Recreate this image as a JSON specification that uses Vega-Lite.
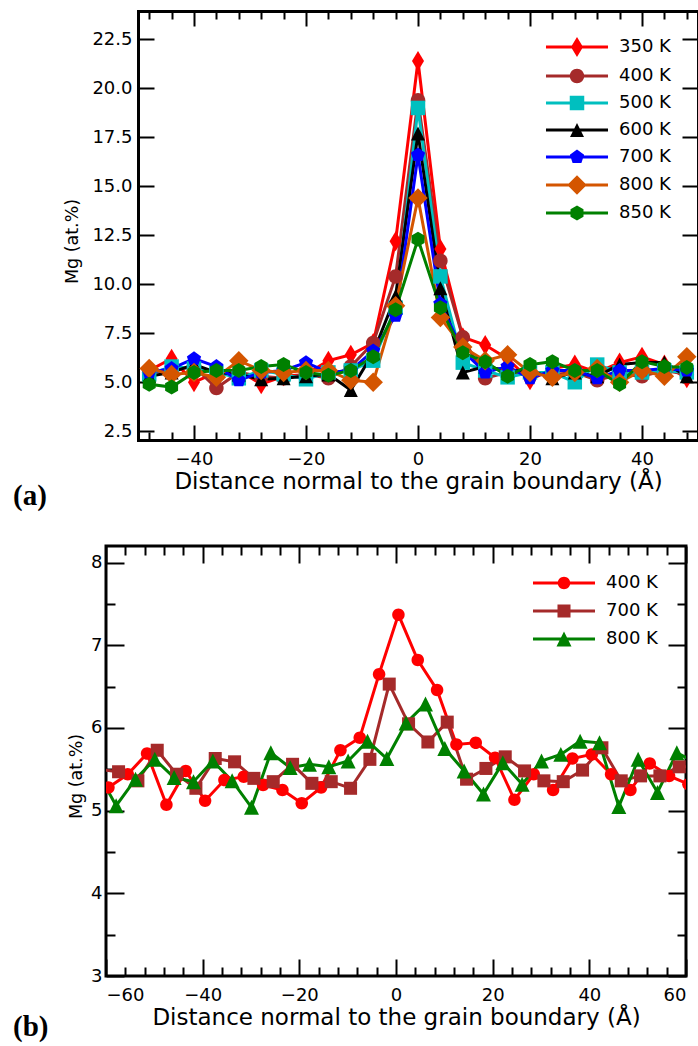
{
  "$schema": "https://vega.github.io/schema/vega-lite/v6.json",
  "padding": {"left": 11, "top": 10, "right": 0, "bottom": 5},
  "background": "white",
  "config": {
    "view": {"stroke": "black", "strokeWidth": 3},
    "axis": {"grid": false, "domain": false, "labelFont": "DejaVu Sans", "titleFont": "DejaVu Sans", "labelFontSize": 18, "titleFontSize": 18, "titleFontWeight": "normal", "labelColor": "black", "titleColor": "black", "tickColor": "black", "tickWidth": 2},
    "legend": {"labelFont": "DejaVu Sans", "labelFontSize": 18, "labelColor": "black"}
  },
  "datasets": {
    "a": [
      {"x":-48,"mg":5.6,"T":"350 K"},{"x":-44,"mg":6.2,"T":"350 K"},{"x":-40,"mg":5.0,"T":"350 K"},{"x":-36,"mg":5.5,"T":"350 K"},{"x":-32,"mg":5.6,"T":"350 K"},{"x":-28,"mg":4.9,"T":"350 K"},{"x":-24,"mg":5.3,"T":"350 K"},{"x":-20,"mg":5.4,"T":"350 K"},{"x":-16,"mg":6.1,"T":"350 K"},{"x":-12,"mg":6.4,"T":"350 K"},{"x":-8,"mg":7.0,"T":"350 K"},{"x":-4,"mg":12.2,"T":"350 K"},{"x":0,"mg":21.4,"T":"350 K"},{"x":4,"mg":11.8,"T":"350 K"},{"x":8,"mg":7.3,"T":"350 K"},{"x":12,"mg":6.9,"T":"350 K"},{"x":16,"mg":6.2,"T":"350 K"},{"x":20,"mg":5.1,"T":"350 K"},{"x":24,"mg":5.7,"T":"350 K"},{"x":28,"mg":5.9,"T":"350 K"},{"x":32,"mg":5.5,"T":"350 K"},{"x":36,"mg":6.0,"T":"350 K"},{"x":40,"mg":6.3,"T":"350 K"},{"x":44,"mg":5.9,"T":"350 K"},{"x":48,"mg":5.2,"T":"350 K"},
      {"x":-48,"mg":5.5,"T":"400 K"},{"x":-44,"mg":5.6,"T":"400 K"},{"x":-40,"mg":5.8,"T":"400 K"},{"x":-36,"mg":4.7,"T":"400 K"},{"x":-32,"mg":5.5,"T":"400 K"},{"x":-28,"mg":5.3,"T":"400 K"},{"x":-24,"mg":5.2,"T":"400 K"},{"x":-20,"mg":5.4,"T":"400 K"},{"x":-16,"mg":5.2,"T":"400 K"},{"x":-12,"mg":5.8,"T":"400 K"},{"x":-8,"mg":7.0,"T":"400 K"},{"x":-4,"mg":10.4,"T":"400 K"},{"x":0,"mg":19.4,"T":"400 K"},{"x":4,"mg":11.2,"T":"400 K"},{"x":8,"mg":7.3,"T":"400 K"},{"x":12,"mg":5.2,"T":"400 K"},{"x":16,"mg":5.5,"T":"400 K"},{"x":20,"mg":5.4,"T":"400 K"},{"x":24,"mg":5.4,"T":"400 K"},{"x":28,"mg":5.5,"T":"400 K"},{"x":32,"mg":5.1,"T":"400 K"},{"x":36,"mg":5.4,"T":"400 K"},{"x":40,"mg":5.3,"T":"400 K"},{"x":44,"mg":5.6,"T":"400 K"},{"x":48,"mg":5.4,"T":"400 K"},
      {"x":-48,"mg":5.4,"T":"500 K"},{"x":-44,"mg":5.8,"T":"500 K"},{"x":-40,"mg":5.7,"T":"500 K"},{"x":-36,"mg":5.5,"T":"500 K"},{"x":-32,"mg":5.2,"T":"500 K"},{"x":-28,"mg":5.6,"T":"500 K"},{"x":-24,"mg":5.4,"T":"500 K"},{"x":-20,"mg":5.15,"T":"500 K"},{"x":-16,"mg":5.5,"T":"500 K"},{"x":-12,"mg":5.6,"T":"500 K"},{"x":-8,"mg":6.1,"T":"500 K"},{"x":-4,"mg":8.8,"T":"500 K"},{"x":0,"mg":19.0,"T":"500 K"},{"x":4,"mg":10.4,"T":"500 K"},{"x":8,"mg":6.0,"T":"500 K"},{"x":12,"mg":5.6,"T":"500 K"},{"x":16,"mg":5.25,"T":"500 K"},{"x":20,"mg":5.5,"T":"500 K"},{"x":24,"mg":5.5,"T":"500 K"},{"x":28,"mg":5.0,"T":"500 K"},{"x":32,"mg":5.9,"T":"500 K"},{"x":36,"mg":5.5,"T":"500 K"},{"x":40,"mg":5.5,"T":"500 K"},{"x":44,"mg":5.6,"T":"500 K"},{"x":48,"mg":5.5,"T":"500 K"},
      {"x":-48,"mg":5.3,"T":"600 K"},{"x":-44,"mg":5.5,"T":"600 K"},{"x":-40,"mg":5.9,"T":"600 K"},{"x":-36,"mg":5.5,"T":"600 K"},{"x":-32,"mg":5.4,"T":"600 K"},{"x":-28,"mg":5.15,"T":"600 K"},{"x":-24,"mg":5.2,"T":"600 K"},{"x":-20,"mg":5.3,"T":"600 K"},{"x":-16,"mg":5.4,"T":"600 K"},{"x":-12,"mg":4.6,"T":"600 K"},{"x":-8,"mg":6.5,"T":"600 K"},{"x":-4,"mg":9.4,"T":"600 K"},{"x":0,"mg":17.7,"T":"600 K"},{"x":4,"mg":9.8,"T":"600 K"},{"x":8,"mg":5.5,"T":"600 K"},{"x":12,"mg":5.8,"T":"600 K"},{"x":16,"mg":5.6,"T":"600 K"},{"x":20,"mg":5.6,"T":"600 K"},{"x":24,"mg":5.2,"T":"600 K"},{"x":28,"mg":5.5,"T":"600 K"},{"x":32,"mg":5.3,"T":"600 K"},{"x":36,"mg":5.9,"T":"600 K"},{"x":40,"mg":6.0,"T":"600 K"},{"x":44,"mg":6.0,"T":"600 K"},{"x":48,"mg":5.3,"T":"600 K"},
      {"x":-48,"mg":5.5,"T":"700 K"},{"x":-44,"mg":5.7,"T":"700 K"},{"x":-40,"mg":6.2,"T":"700 K"},{"x":-36,"mg":5.8,"T":"700 K"},{"x":-32,"mg":5.1,"T":"700 K"},{"x":-28,"mg":5.5,"T":"700 K"},{"x":-24,"mg":5.6,"T":"700 K"},{"x":-20,"mg":6.0,"T":"700 K"},{"x":-16,"mg":5.5,"T":"700 K"},{"x":-12,"mg":5.6,"T":"700 K"},{"x":-8,"mg":6.6,"T":"700 K"},{"x":-4,"mg":8.4,"T":"700 K"},{"x":0,"mg":16.6,"T":"700 K"},{"x":4,"mg":9.0,"T":"700 K"},{"x":8,"mg":6.6,"T":"700 K"},{"x":12,"mg":5.5,"T":"700 K"},{"x":16,"mg":5.8,"T":"700 K"},{"x":20,"mg":5.2,"T":"700 K"},{"x":24,"mg":5.6,"T":"700 K"},{"x":28,"mg":5.6,"T":"700 K"},{"x":32,"mg":5.2,"T":"700 K"},{"x":36,"mg":5.6,"T":"700 K"},{"x":40,"mg":5.6,"T":"700 K"},{"x":44,"mg":5.7,"T":"700 K"},{"x":48,"mg":5.6,"T":"700 K"},
      {"x":-48,"mg":5.7,"T":"800 K"},{"x":-44,"mg":5.4,"T":"800 K"},{"x":-40,"mg":5.5,"T":"800 K"},{"x":-36,"mg":5.25,"T":"800 K"},{"x":-32,"mg":6.1,"T":"800 K"},{"x":-28,"mg":5.6,"T":"800 K"},{"x":-24,"mg":5.5,"T":"800 K"},{"x":-20,"mg":5.6,"T":"800 K"},{"x":-16,"mg":5.6,"T":"800 K"},{"x":-12,"mg":5.1,"T":"800 K"},{"x":-8,"mg":5.0,"T":"800 K"},{"x":-4,"mg":8.9,"T":"800 K"},{"x":0,"mg":14.4,"T":"800 K"},{"x":4,"mg":8.3,"T":"800 K"},{"x":8,"mg":6.8,"T":"800 K"},{"x":12,"mg":6.1,"T":"800 K"},{"x":16,"mg":6.4,"T":"800 K"},{"x":20,"mg":5.5,"T":"800 K"},{"x":24,"mg":5.25,"T":"800 K"},{"x":28,"mg":5.5,"T":"800 K"},{"x":32,"mg":5.7,"T":"800 K"},{"x":36,"mg":5.0,"T":"800 K"},{"x":40,"mg":5.6,"T":"800 K"},{"x":44,"mg":5.3,"T":"800 K"},{"x":48,"mg":6.3,"T":"800 K"},
      {"x":-48,"mg":4.9,"T":"850 K"},{"x":-44,"mg":4.75,"T":"850 K"},{"x":-40,"mg":5.5,"T":"850 K"},{"x":-36,"mg":5.6,"T":"850 K"},{"x":-32,"mg":5.6,"T":"850 K"},{"x":-28,"mg":5.8,"T":"850 K"},{"x":-24,"mg":5.9,"T":"850 K"},{"x":-20,"mg":5.5,"T":"850 K"},{"x":-16,"mg":5.35,"T":"850 K"},{"x":-12,"mg":5.6,"T":"850 K"},{"x":-8,"mg":6.3,"T":"850 K"},{"x":-4,"mg":8.7,"T":"850 K"},{"x":0,"mg":12.3,"T":"850 K"},{"x":4,"mg":8.8,"T":"850 K"},{"x":8,"mg":6.5,"T":"850 K"},{"x":12,"mg":6.05,"T":"850 K"},{"x":16,"mg":5.3,"T":"850 K"},{"x":20,"mg":5.9,"T":"850 K"},{"x":24,"mg":6.05,"T":"850 K"},{"x":28,"mg":5.6,"T":"850 K"},{"x":32,"mg":5.6,"T":"850 K"},{"x":36,"mg":4.9,"T":"850 K"},{"x":40,"mg":6.05,"T":"850 K"},{"x":44,"mg":5.8,"T":"850 K"},{"x":48,"mg":5.75,"T":"850 K"}
    ],
    "b": [
      {"x":-59.5,"mg":5.28,"T":"400 K"},{"x":-55.5,"mg":5.44,"T":"400 K"},{"x":-51.5,"mg":5.69,"T":"400 K"},{"x":-47.5,"mg":5.07,"T":"400 K"},{"x":-43.5,"mg":5.48,"T":"400 K"},{"x":-39.5,"mg":5.12,"T":"400 K"},{"x":-35.5,"mg":5.37,"T":"400 K"},{"x":-31.5,"mg":5.41,"T":"400 K"},{"x":-27.5,"mg":5.31,"T":"400 K"},{"x":-23.5,"mg":5.25,"T":"400 K"},{"x":-19.5,"mg":5.09,"T":"400 K"},{"x":-15.5,"mg":5.28,"T":"400 K"},{"x":-11.5,"mg":5.73,"T":"400 K"},{"x":-7.5,"mg":5.88,"T":"400 K"},{"x":-3.5,"mg":6.65,"T":"400 K"},{"x":0.5,"mg":7.37,"T":"400 K"},{"x":4.5,"mg":6.82,"T":"400 K"},{"x":8.5,"mg":6.46,"T":"400 K"},{"x":12.5,"mg":5.8,"T":"400 K"},{"x":16.5,"mg":5.82,"T":"400 K"},{"x":20.5,"mg":5.64,"T":"400 K"},{"x":24.5,"mg":5.13,"T":"400 K"},{"x":28.5,"mg":5.44,"T":"400 K"},{"x":32.5,"mg":5.25,"T":"400 K"},{"x":36.5,"mg":5.63,"T":"400 K"},{"x":40.5,"mg":5.68,"T":"400 K"},{"x":44.5,"mg":5.44,"T":"400 K"},{"x":48.5,"mg":5.25,"T":"400 K"},{"x":52.5,"mg":5.57,"T":"400 K"},{"x":56.5,"mg":5.42,"T":"400 K"},{"x":60.5,"mg":5.32,"T":"400 K"},
      {"x":-61.4,"mg":5.5,"T":"700 K"},{"x":-57.4,"mg":5.47,"T":"700 K"},{"x":-53.4,"mg":5.36,"T":"700 K"},{"x":-49.4,"mg":5.73,"T":"700 K"},{"x":-45.4,"mg":5.44,"T":"700 K"},{"x":-41.4,"mg":5.27,"T":"700 K"},{"x":-37.4,"mg":5.63,"T":"700 K"},{"x":-33.4,"mg":5.59,"T":"700 K"},{"x":-29.4,"mg":5.39,"T":"700 K"},{"x":-25.4,"mg":5.35,"T":"700 K"},{"x":-21.4,"mg":5.56,"T":"700 K"},{"x":-17.4,"mg":5.33,"T":"700 K"},{"x":-13.4,"mg":5.35,"T":"700 K"},{"x":-9.4,"mg":5.27,"T":"700 K"},{"x":-5.4,"mg":5.62,"T":"700 K"},{"x":-1.4,"mg":6.53,"T":"700 K"},{"x":2.6,"mg":6.05,"T":"700 K"},{"x":6.6,"mg":5.83,"T":"700 K"},{"x":10.6,"mg":6.07,"T":"700 K"},{"x":14.6,"mg":5.38,"T":"700 K"},{"x":18.6,"mg":5.51,"T":"700 K"},{"x":22.6,"mg":5.65,"T":"700 K"},{"x":26.6,"mg":5.48,"T":"700 K"},{"x":30.6,"mg":5.36,"T":"700 K"},{"x":34.6,"mg":5.35,"T":"700 K"},{"x":38.6,"mg":5.49,"T":"700 K"},{"x":42.6,"mg":5.76,"T":"700 K"},{"x":46.6,"mg":5.36,"T":"700 K"},{"x":50.6,"mg":5.42,"T":"700 K"},{"x":54.6,"mg":5.42,"T":"700 K"},{"x":58.6,"mg":5.53,"T":"700 K"},{"x":62.6,"mg":5.53,"T":"700 K"},
      {"x":-61.9,"mg":5.48,"T":"800 K"},{"x":-57.9,"mg":5.06,"T":"800 K"},{"x":-53.9,"mg":5.38,"T":"800 K"},{"x":-49.9,"mg":5.62,"T":"800 K"},{"x":-45.9,"mg":5.4,"T":"800 K"},{"x":-41.9,"mg":5.35,"T":"800 K"},{"x":-37.9,"mg":5.6,"T":"800 K"},{"x":-33.9,"mg":5.36,"T":"800 K"},{"x":-29.9,"mg":5.04,"T":"800 K"},{"x":-25.9,"mg":5.7,"T":"800 K"},{"x":-21.9,"mg":5.52,"T":"800 K"},{"x":-17.9,"mg":5.56,"T":"800 K"},{"x":-13.9,"mg":5.53,"T":"800 K"},{"x":-9.9,"mg":5.6,"T":"800 K"},{"x":-5.9,"mg":5.84,"T":"800 K"},{"x":-1.9,"mg":5.63,"T":"800 K"},{"x":2.1,"mg":6.06,"T":"800 K"},{"x":6.1,"mg":6.29,"T":"800 K"},{"x":10.1,"mg":5.75,"T":"800 K"},{"x":14.1,"mg":5.48,"T":"800 K"},{"x":18.1,"mg":5.2,"T":"800 K"},{"x":22.1,"mg":5.58,"T":"800 K"},{"x":26.1,"mg":5.32,"T":"800 K"},{"x":30.1,"mg":5.6,"T":"800 K"},{"x":34.1,"mg":5.68,"T":"800 K"},{"x":38.1,"mg":5.84,"T":"800 K"},{"x":42.1,"mg":5.82,"T":"800 K"},{"x":46.1,"mg":5.05,"T":"800 K"},{"x":50.1,"mg":5.62,"T":"800 K"},{"x":54.1,"mg":5.22,"T":"800 K"},{"x":58.1,"mg":5.7,"T":"800 K"},{"x":62.1,"mg":5.58,"T":"800 K"}
    ]
  },
  "spacing": 32,
  "resolve": {"scale": {"color": "independent", "shape": "independent"}, "legend": {"color": "independent", "shape": "independent"}},
  "vconcat": [
    {
      "width": 592, "height": 429,
      "view": {"stroke": null},
      "data": {"name": "a"},
      "title": {"text": "(a)", "orient": "bottom", "anchor": "start", "frame": "group", "font": "Liberation Serif", "fontWeight": "bold", "fontSize": 29, "color": "black", "dx": -93, "offset": -11},
      "resolve": {"axis": {"x": "independent", "y": "independent"}, "legend": {"color": "independent", "shape": "independent"}},
      "layer": [
        {
          "mark": {"type": "line", "strokeWidth": 3, "clip": true},
          "encoding": {
            "x": {"field": "x", "type": "quantitative", "scale": {"domain": [-50, 50], "range": [32, 592], "nice": false, "zero": false},
              "axis": {"orient": "bottom", "domain": true, "domainWidth": 3, "domainColor": "black", "domainCap": "square", "values": [-48,-44,-40,-36,-32,-28,-24,-20,-16,-12,-8,-4,0,4,8,12,16,20,24,28,32,36,40,44,48], "labelExpr": "datum.value % 20 === 0 ? datum.label : ''", "tickSize": {"condition": {"test": "datum.value % 20 === 0", "value": -15}, "value": -8}, "labelPadding": 25, "title": "Distance normal to the grain boundary (Å)", "titleFontSize": 23, "titlePadding": 2}},
            "y": {"field": "mg", "type": "quantitative", "scale": {"domain": [2.05, 23.95], "nice": false, "zero": false},
              "axis": {"orient": "left", "offset": -32, "domain": true, "domainWidth": 3, "domainColor": "black", "domainCap": "square", "values": [2.5,5,7.5,10,12.5,15,17.5,20,22.5], "format": ".1f", "tickSize": -16, "labelPadding": 22, "title": "Mg (at.%)", "titleFontSize": 17.5, "titlePadding": 10, "titleY": 230}},
            "color": {"field": "T", "type": "nominal",
              "scale": {"domain": ["350 K","400 K","500 K","600 K","700 K","800 K","850 K"], "range": ["#ff0000","#a52a2a","#00bfbf","#000000","#0000ff","#d45500","#008000"]},
              "legend": {"title": null, "orient": "top-right", "offset": 27, "padding": 0, "rowPadding": 9, "symbolSize": 196, "labelOffset": 33,
                "encode": {"symbols": {"update": {
                  "fill": {"signal": "datum.value === '350 K' ? '#ff0000' : datum.value === '400 K' ? '#a52a2a' : datum.value === '500 K' ? '#00bfbf' : datum.value === '600 K' ? '#000000' : datum.value === '700 K' ? '#0000ff' : datum.value === '800 K' ? '#d45500' : '#008000'"},
                  "strokeWidth": {"value": 0},
                  "opacity": {"value": 1},
                  "size": {"value": 196},
                  "shape": {"signal": "datum.value === '350 K' ? 'M-4.43,-0.2H4.43V0.2H-4.43Z M0,-1.43L0.86,0L0,1.43L-0.86,0Z' : datum.value === '400 K' ? 'M-4.43,-0.2H4.43V0.2H-4.43Z M-1.036,0A1.036,1.036,0,1,1,1.036,0A1.036,1.036,0,1,1,-1.036,0Z' : datum.value === '500 K' ? 'M-4.43,-0.2H4.43V0.2H-4.43Z M-1.036,-1.036H1.036V1.036H-1.036Z' : datum.value === '600 K' ? 'M-4.43,-0.2H4.43V0.2H-4.43Z M0,-1L1,1L-1,1Z' : datum.value === '700 K' ? 'M-4.43,-0.2H4.43V0.2H-4.43Z M0,-1.07L1.018,-0.331L0.629,0.866L-0.629,0.866L-1.018,-0.331Z' : datum.value === '800 K' ? 'M-4.43,-0.2H4.43V0.2H-4.43Z M0,-1.39L1.39,0L0,1.39L-1.39,0Z' : 'M-4.43,-0.2H4.43V0.2H-4.43Z M0,-1.07L0.927,-0.535L0.927,0.535L0,1.07L-0.927,0.535L-0.927,-0.535Z'"}
                }}}}}
          }
        },
        {
          "mark": {"type": "point", "filled": true, "size": 196, "opacity": 1, "strokeWidth": 0, "clip": true},
          "encoding": {
            "x": {"field": "x", "type": "quantitative", "scale": {"domain": [-50, 50], "range": [32, 592], "nice": false, "zero": false},
              "axis": {"orient": "top", "domain": true, "domainWidth": 3, "domainColor": "black", "domainCap": "square", "values": [-48,-44,-40,-36,-32,-28,-24,-20,-16,-12,-8,-4,0,4,8,12,16,20,24,28,32,36,40,44,48], "labels": false, "tickSize": {"condition": {"test": "datum.value % 20 === 0", "value": -15}, "value": -8}, "title": null}},
            "y": {"field": "mg", "type": "quantitative", "scale": {"domain": [2.05, 23.95], "nice": false, "zero": false},
              "axis": {"orient": "right", "domain": true, "domainWidth": 3, "domainColor": "black", "domainCap": "square", "values": [2.5,5,7.5,10,12.5,15,17.5,20,22.5], "labels": false, "tickSize": -16, "title": null}},
            "color": {"field": "T", "type": "nominal", "scale": {"domain": ["350 K","400 K","500 K","600 K","700 K","800 K","850 K"], "range": ["#ff0000","#a52a2a","#00bfbf","#000000","#0000ff","#d45500","#008000"]}, "legend": null},
            "shape": {"field": "T", "type": "nominal", "scale": {"domain": ["350 K","400 K","500 K","600 K","700 K","800 K","850 K"], "range": ["M0,-1.43L0.86,0L0,1.43L-0.86,0Z", "M-1.036,0A1.036,1.036,0,1,1,1.036,0A1.036,1.036,0,1,1,-1.036,0Z", "M-1.036,-1.036H1.036V1.036H-1.036Z", "M0,-1L1,1L-1,1Z", "M0,-1.07L1.018,-0.331L0.629,0.866L-0.629,0.866L-1.018,-0.331Z", "M0,-1.39L1.39,0L0,1.39L-1.39,0Z", "M0,-1.07L0.927,-0.535L0.927,0.535L0,1.07L-0.927,0.535L-0.927,-0.535Z"]}, "legend": null}
          }
        }
      ]
    },
    {
      "width": 580, "height": 430,
      "data": {"name": "b"},
      "title": {"text": "(b)", "orient": "bottom", "anchor": "start", "frame": "group", "font": "Liberation Serif", "fontWeight": "bold", "fontSize": 29, "color": "black", "dx": -93, "offset": -16},
      "resolve": {"axis": {"x": "independent", "y": "independent"}, "legend": {"color": "independent", "shape": "independent"}},
      "layer": [
        {
          "mark": {"type": "line", "strokeWidth": 3, "clip": true},
          "encoding": {
            "x": {"field": "x", "type": "quantitative", "scale": {"domain": [-60, 60], "nice": false, "zero": false},
              "axis": {"orient": "bottom", "values": [-60,-56,-52,-48,-44,-40,-36,-32,-28,-24,-20,-16,-12,-8,-4,0,4,8,12,16,20,24,28,32,36,40,44,48,52,56,60], "labelExpr": "datum.value % 20 === 0 ? datum.label : ''", "tickSize": {"condition": {"test": "datum.value % 20 === 0", "value": -17}, "value": -9}, "labelPadding": 27, "title": "Distance normal to the grain boundary (Å)", "titleFontSize": 23, "titlePadding": 2}},
            "y": {"field": "mg", "type": "quantitative", "scale": {"domain": [3, 8.2], "nice": false, "zero": false},
              "axis": {"orient": "left", "values": [3,3.5,4,4.5,5,5.5,6,6.5,7,7.5,8], "labelExpr": "datum.value % 1 === 0 ? format(datum.value, 'd') : ''", "tickSize": {"condition": {"test": "datum.value % 1 === 0", "value": -18}, "value": -9}, "labelPadding": 22, "title": "Mg (at.%)", "titleFontSize": 17.5, "titlePadding": 5, "titleY": 230}},
            "color": {"field": "T", "type": "nominal",
              "scale": {"domain": ["400 K","700 K","800 K"], "range": ["#ff0000","#a52a2a","#008000"]},
              "legend": {"title": null, "orient": "top-right", "offset": 28, "padding": 0, "rowPadding": 10, "symbolSize": 196, "labelOffset": 33,
                "encode": {"symbols": {"update": {
                  "fill": {"signal": "datum.value === '400 K' ? '#ff0000' : datum.value === '700 K' ? '#a52a2a' : '#008000'"},
                  "strokeWidth": {"value": 0},
                  "opacity": {"value": 1},
                  "size": {"value": 196},
                  "shape": {"signal": "datum.value === '400 K' ? 'M-4.43,-0.2H4.43V0.2H-4.43Z M-0.893,0A0.893,0.893,0,1,1,0.893,0A0.893,0.893,0,1,1,-0.893,0Z' : datum.value === '700 K' ? 'M-4.43,-0.2H4.43V0.2H-4.43Z M-0.93,-0.93H0.93V0.93H-0.93Z' : 'M-4.43,-0.2H4.43V0.2H-4.43Z M0,-1.07L1.07,1.07L-1.07,1.07Z'"}
                }}}}}
          }
        },
        {
          "mark": {"type": "point", "filled": true, "size": 196, "opacity": 1, "strokeWidth": 0, "clip": true},
          "encoding": {
            "x": {"field": "x", "type": "quantitative", "scale": {"domain": [-60, 60], "nice": false, "zero": false},
              "axis": {"orient": "top", "values": [-60,-56,-52,-48,-44,-40,-36,-32,-28,-24,-20,-16,-12,-8,-4,0,4,8,12,16,20,24,28,32,36,40,44,48,52,56,60], "labels": false, "tickSize": {"condition": {"test": "datum.value % 20 === 0", "value": -17}, "value": -9}, "title": null}},
            "y": {"field": "mg", "type": "quantitative", "scale": {"domain": [3, 8.2], "nice": false, "zero": false},
              "axis": {"orient": "right", "values": [3,3.5,4,4.5,5,5.5,6,6.5,7,7.5,8], "labels": false, "tickSize": {"condition": {"test": "datum.value % 1 === 0", "value": -18}, "value": -9}, "title": null}},
            "color": {"field": "T", "type": "nominal", "scale": {"domain": ["400 K","700 K","800 K"], "range": ["#ff0000","#a52a2a","#008000"]}, "legend": null},
            "shape": {"field": "T", "type": "nominal", "scale": {"domain": ["400 K","700 K","800 K"], "range": ["M-0.893,0A0.893,0.893,0,1,1,0.893,0A0.893,0.893,0,1,1,-0.893,0Z", "M-0.93,-0.93H0.93V0.93H-0.93Z", "M0,-1.07L1.07,1.07L-1.07,1.07Z"]}, "legend": null}
          }
        }
      ]
    }
  ]
}
